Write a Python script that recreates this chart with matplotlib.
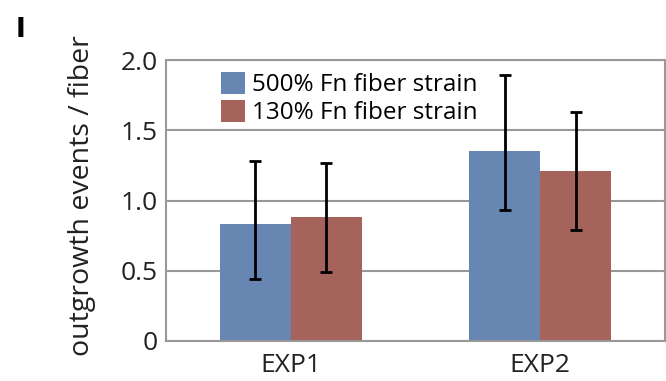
from matplotlib import pyplot as plt
import numpy as np

plt.rcParams["font.family"] = ["Open Sans", "DejaVu Sans"]

groups = ["EXP1", "EXP2"]
labels = ["500% Fn fiber strain", "130% Fn fiber strain"]
means_500 = [0.83, 1.35]
means_130 = [0.88, 1.21]
# error bar ends (lower, upper)
low_500 = [0.44, 0.93]
high_500 = [1.28, 1.89]
low_130 = [0.49, 0.79]
high_130 = [1.27, 1.63]

x = np.arange(len(groups))
width = 0.285

fig = plt.figure(figsize=(6.66, 3.81), dpi=100)
ax = fig.add_axes([166 / 666, 40 / 381, 499 / 666, 281 / 381])

err_500 = [np.array(means_500) - low_500, np.array(high_500) - means_500]
err_130 = [np.array(means_130) - low_130, np.array(high_130) - means_130]

ekw = dict(elinewidth=2, capthick=2, ecolor="black")
ax.bar(x - width / 2, means_500, width, color="#6787b2", label=labels[0],
       yerr=err_500, capsize=4, error_kw=ekw, zorder=2)
ax.bar(x + width / 2, means_130, width, color="#a5635c", label=labels[1],
       yerr=err_130, capsize=4, error_kw=ekw, zorder=2)

ax.set_xlim(-0.5, 1.5)
ax.set_ylim(0, 2.0)
ax.set_yticks([0, 0.5, 1.0, 1.5, 2.0])
ax.set_yticklabels(["0", "0.5", "1.0", "1.5", "2.0"])
ax.set_xticks(x)
ax.set_xticklabels(groups)
ax.tick_params(length=0, labelsize=19, colors="#222222")
ax.tick_params(axis="x", pad=9)
ax.tick_params(axis="y", pad=6)
ax.yaxis.grid(True, color="#999999", linewidth=1.5, zorder=0)
ax.set_axisbelow(True)
for s in ax.spines.values():
    s.set_color("#999999")
    s.set_linewidth(1.5)

ax.set_ylabel("outgrowth events / fiber", fontsize=20.5, color="#222222")
ax.yaxis.set_label_coords(-0.14, 0.516)
ax.legend(loc="upper left", bbox_to_anchor=(0.085, 1.0), frameon=False, fontsize=17.5,
          handlelength=1.0, handleheight=1.0, handletextpad=0.3, labelspacing=0.1,
          borderaxespad=0.1)

fig.text(16 / 666, 1 - 30 / 381, "I", fontsize=19, fontweight="heavy", va="center",
         family="DejaVu Sans")

fig.savefig("out.png", dpi=100)
